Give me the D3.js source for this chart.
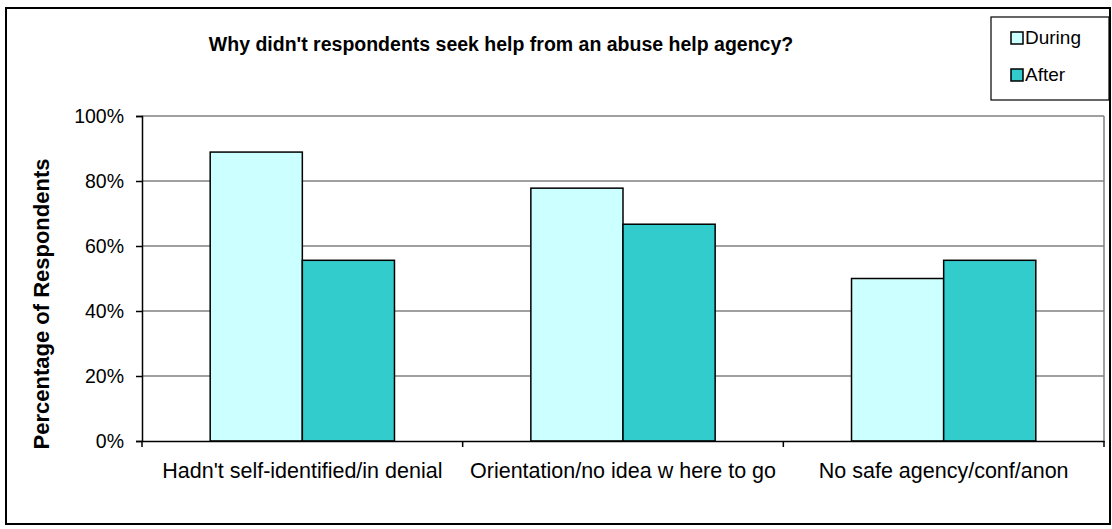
<!DOCTYPE html>
<html>
<head>
<meta charset="utf-8">
<script src="https://cdn.jsdelivr.net/npm/d3@7"></script>
<style>
  body { margin: 0; background: #fff; }
  text { font-family: "Liberation Sans", Arial, sans-serif; fill: #000; }
</style>
</head>
<body>
<div id="chart"></div>
<script>
// chart data
const categories = ["Hadn't self-identified/in denial", "Orientation/no idea w here to go", "No safe agency/conf/anon"];
const seriesNames = ["During", "After"];
const during = [0.889, 0.778, 0.50];
const after = [0.556, 0.667, 0.556];
const yTicks = [0, 0.2, 0.4, 0.6, 0.8, 1.0];
const colors = ["#CCFFFF", "#33CCCC"];

const width = 1112, height = 529;
const margin = { top: 116, right: 8, bottom: 88, left: 142 };
const plotW = width - margin.left - margin.right;
const plotH = height - margin.top - margin.bottom;

const svg = d3.select("#chart").append("svg").attr("width", width).attr("height", height);

// outer frame
svg.append("rect").attr("x", 6).attr("y", 8).attr("width", 1104).attr("height", 516)
    .attr("fill", "none").attr("stroke", "#000").attr("stroke-width", 2);

const g = svg.append("g").attr("transform", "translate(" + margin.left + "," + margin.top + ")");

const x0 = d3.scaleBand().domain(categories).range([0, plotW]).padding(0);
const x1 = d3.scaleBand().domain(seriesNames).range([0, x0.bandwidth()]).paddingInner(0).paddingOuter(0.74);
const y = d3.scaleLinear().domain([0, 1]).range([plotH, 0]);

// grid lines
g.selectAll(".grid").data(yTicks.slice(1)).enter().append("line")
    .attr("x1", 0).attr("x2", plotW)
    .attr("y1", d => y(d)).attr("y2", d => y(d))
    .attr("stroke", "#808080").attr("stroke-width", 1.5);

// plot area right edge
g.append("line").attr("x1", plotW).attr("x2", plotW).attr("y1", 0).attr("y2", plotH)
    .attr("stroke", "#808080").attr("stroke-width", 1.5);

// bars
const rows = categories.map((c, i) => ({ cat: c, values: [during[i], after[i]] }));
const grp = g.selectAll(".cat").data(rows).enter().append("g")
    .attr("transform", d => "translate(" + x0(d.cat) + ",0)");
grp.selectAll("rect").data(d => d.values.map((v, j) => ({ s: seriesNames[j], v: v, j: j }))).enter().append("rect")
    .attr("x", d => x1(d.s))
    .attr("y", d => y(d.v))
    .attr("width", x1.bandwidth())
    .attr("height", d => plotH - y(d.v))
    .attr("fill", d => colors[d.j])
    .attr("stroke", "#000").attr("stroke-width", 1.5);

// y axis
const yAxis = g.append("g").call(d3.axisLeft(y).tickValues(yTicks).tickFormat(d3.format(".0%")).tickSize(6).tickPadding(12));
yAxis.select(".domain").attr("stroke", "#000").attr("stroke-width", 1.5);
yAxis.selectAll(".tick line").attr("stroke", "#000").attr("stroke-width", 1.5);
yAxis.selectAll("text").style("font-size", "19.5px").attr("fill", "#000");

// x axis
const xAxis = g.append("g").attr("transform", "translate(0," + plotH + ")")
    .call(d3.axisBottom(x0).tickSize(0).tickPadding(22));
xAxis.select(".domain").attr("stroke", "#000").attr("stroke-width", 1.5);
xAxis.selectAll("text").style("font-size", "21.5px").attr("fill", "#000");
// category separators
g.selectAll(".sep").data(categories.concat(["end"])).enter().append("line")
    .attr("x1", (d, i) => i * x0.step()).attr("x2", (d, i) => i * x0.step())
    .attr("y1", plotH).attr("y2", plotH + 6)
    .attr("stroke", "#000").attr("stroke-width", 1.5);

// title
svg.append("text").attr("x", 501).attr("y", 51).attr("text-anchor", "middle")
    .style("font-size", "19.5px").style("font-weight", "bold")
    .text("Why didn't respondents seek help from an abuse help agency?");

// y axis title
svg.append("text").attr("transform", "translate(49," + 304 + ") rotate(-90)")
    .attr("text-anchor", "middle")
    .style("font-size", "22px").style("font-weight", "bold")
    .text("Percentage of Respondents");

// legend
const legend = svg.append("g").attr("transform", "translate(991,17)");
legend.append("rect").attr("width", 118).attr("height", 83)
    .attr("fill", "#fff").attr("stroke", "#000").attr("stroke-width", 1.2);
seriesNames.forEach((s, i) => {
    legend.append("rect").attr("x", 20).attr("y", 15 + i * 37).attr("width", 12).attr("height", 12)
        .attr("fill", colors[i]).attr("stroke", "#000").attr("stroke-width", 1.5);
    legend.append("text").attr("x", 34).attr("y", 27 + i * 37)
        .style("font-size", "19px").text(s);
});
</script>
</body>
</html>
